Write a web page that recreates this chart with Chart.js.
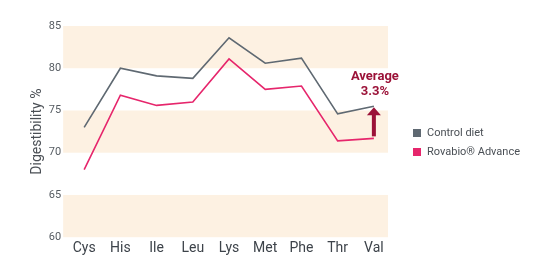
<!DOCTYPE html>
<html>
<head>
<meta charset="utf-8">
<script src="https://cdn.jsdelivr.net/npm/chart.js@4/dist/chart.umd.min.js"></script>
<style>
    html, body { margin: 0; padding: 0; background: #fff; }
    #wrap { width: 545px; height: 267px; position: relative; font-family: Roboto, "Open Sans", sans-serif; }
    #legend { position: absolute; left: 413px; top: 123px; font-size: 11px; color: #4a4f55; }
    #legend .item { display: flex; align-items: center; height: 19px; white-space: nowrap; }
    #legend .sw { width: 8px; height: 8px; margin-right: 6px; }
</style>
</head>
<body>
<div id="wrap">
    <canvas id="chart" width="545" height="267"></canvas>
    <div id="legend"></div>
</div>
<script>
// --------------------------------------------------------------------------
// DATA
// --------------------------------------------------------------------------
const aminoAcids = ['Cys', 'His', 'Ile', 'Leu', 'Lys', 'Met', 'Phe', 'Thr', 'Val'];
const controlDiet = [73.0, 80.0, 79.1, 78.8, 83.6, 80.6, 81.2, 74.6, 75.5];
const rovabio = [68.0, 76.8, 75.6, 76.0, 81.1, 77.5, 77.9, 71.4, 71.7];
const yTicks = [60, 65, 70, 75, 80, 85];
const shadedBands = [[60, 65], [70, 75], [80, 85]];
const averageLabel = ['Average', '3.3%'];

const FONT = 'Roboto, "Open Sans", sans-serif';
const GREY = '#5f6972';
const PINK = '#e6266c';
const DARK_RED = '#9b1238';

const toPoints = arr => arr.map((v, i) => ({ x: i, y: v }));

// bands behind the lines
const bandsPlugin = {
    id: 'bands',
    beforeDatasetsDraw(chart) {
        const { ctx, chartArea, scales: { y } } = chart;
        ctx.save();
        ctx.fillStyle = '#fdf1e2';
        shadedBands.forEach(([lo, hi]) => {
            const top = y.getPixelForValue(hi);
            const bottom = y.getPixelForValue(lo);
            ctx.fillRect(chartArea.left, top, chartArea.right - chartArea.left, bottom - top);
        });
        ctx.restore();
    }
};

// arrow + "Average 3.3%" over the last category
const arrowPlugin = {
    id: 'avgArrow',
    afterDatasetsDraw(chart) {
        const { ctx, scales: { x, y } } = chart;
        const last = aminoAcids.length - 1;
        const px = x.getPixelForValue(last);
        const yBase = y.getPixelForValue(rovabio[last]) - 2;
        const yTip = y.getPixelForValue(controlDiet[last]) + 1;
        const headH = 8;
        ctx.save();
        ctx.fillStyle = DARK_RED;
        ctx.fillRect(px - 2, yTip + headH - 1, 4, yBase - yTip - headH + 1);
        ctx.beginPath();
        ctx.moveTo(px - 7, yTip + headH);
        ctx.lineTo(px, yTip);
        ctx.lineTo(px + 7, yTip + headH);
        ctx.closePath();
        ctx.fill();
        ctx.font = 'bold 13px ' + FONT;
        ctx.textAlign = 'center';
        ctx.textBaseline = 'middle';
        ctx.fillText(averageLabel[0], px + 1, yTip - 31);
        ctx.fillText(averageLabel[1], px + 1, yTip - 16);
        ctx.restore();
    }
};

const chart = new Chart(document.getElementById('chart'), {
    type: 'line',
    data: {
        datasets: [
            { label: 'Control diet', data: toPoints(controlDiet), borderColor: GREY, backgroundColor: GREY, borderWidth: 1.6, pointRadius: 0, tension: 0 },
            { label: 'Rovabio® Advance', data: toPoints(rovabio), borderColor: PINK, backgroundColor: PINK, borderWidth: 1.6, pointRadius: 0, tension: 0 }
        ]
    },
    options: {
        responsive: false,
        animation: false,
        layout: { padding: { left: 28, right: 157, top: 26, bottom: 7 } },
        plugins: {
            legend: { display: false },
            tooltip: { enabled: false }
        },
        scales: {
            x: {
                type: 'linear',
                min: -0.58, max: aminoAcids.length - 1 + 0.39,
                afterBuildTicks(axis) { axis.ticks = aminoAcids.map((_, i) => ({ value: i })); },
                grid: { display: false, drawTicks: false },
                border: { display: false },
                ticks: {
                    color: '#3d434a', font: { family: FONT, size: 14 }, padding: 3,
                    autoSkip: false, maxRotation: 0,
                    callback: v => aminoAcids[v]
                }
            },
            y: {
                min: 60, max: 85,
                afterBuildTicks(axis) { axis.ticks = yTicks.map(v => ({ value: v })); },
                grid: { display: false, drawTicks: false },
                border: { display: false },
                ticks: { color: '#555b61', font: { family: FONT, size: 11 }, padding: 2 },
                title: { display: true, text: 'Digestibility %', color: '#4a4f55', font: { family: FONT, size: 14 }, padding: 1 }
            }
        }
    },
    plugins: [bandsPlugin, arrowPlugin]
});

// legend built from the datasets
const legendEl = document.getElementById('legend');
chart.data.datasets.forEach(ds => {
    const item = document.createElement('div');
    item.className = 'item';
    item.innerHTML = `<span class="sw" style="background:${ds.borderColor}"></span>${ds.label}`;
    legendEl.appendChild(item);
});
</script>
</body>
</html>
